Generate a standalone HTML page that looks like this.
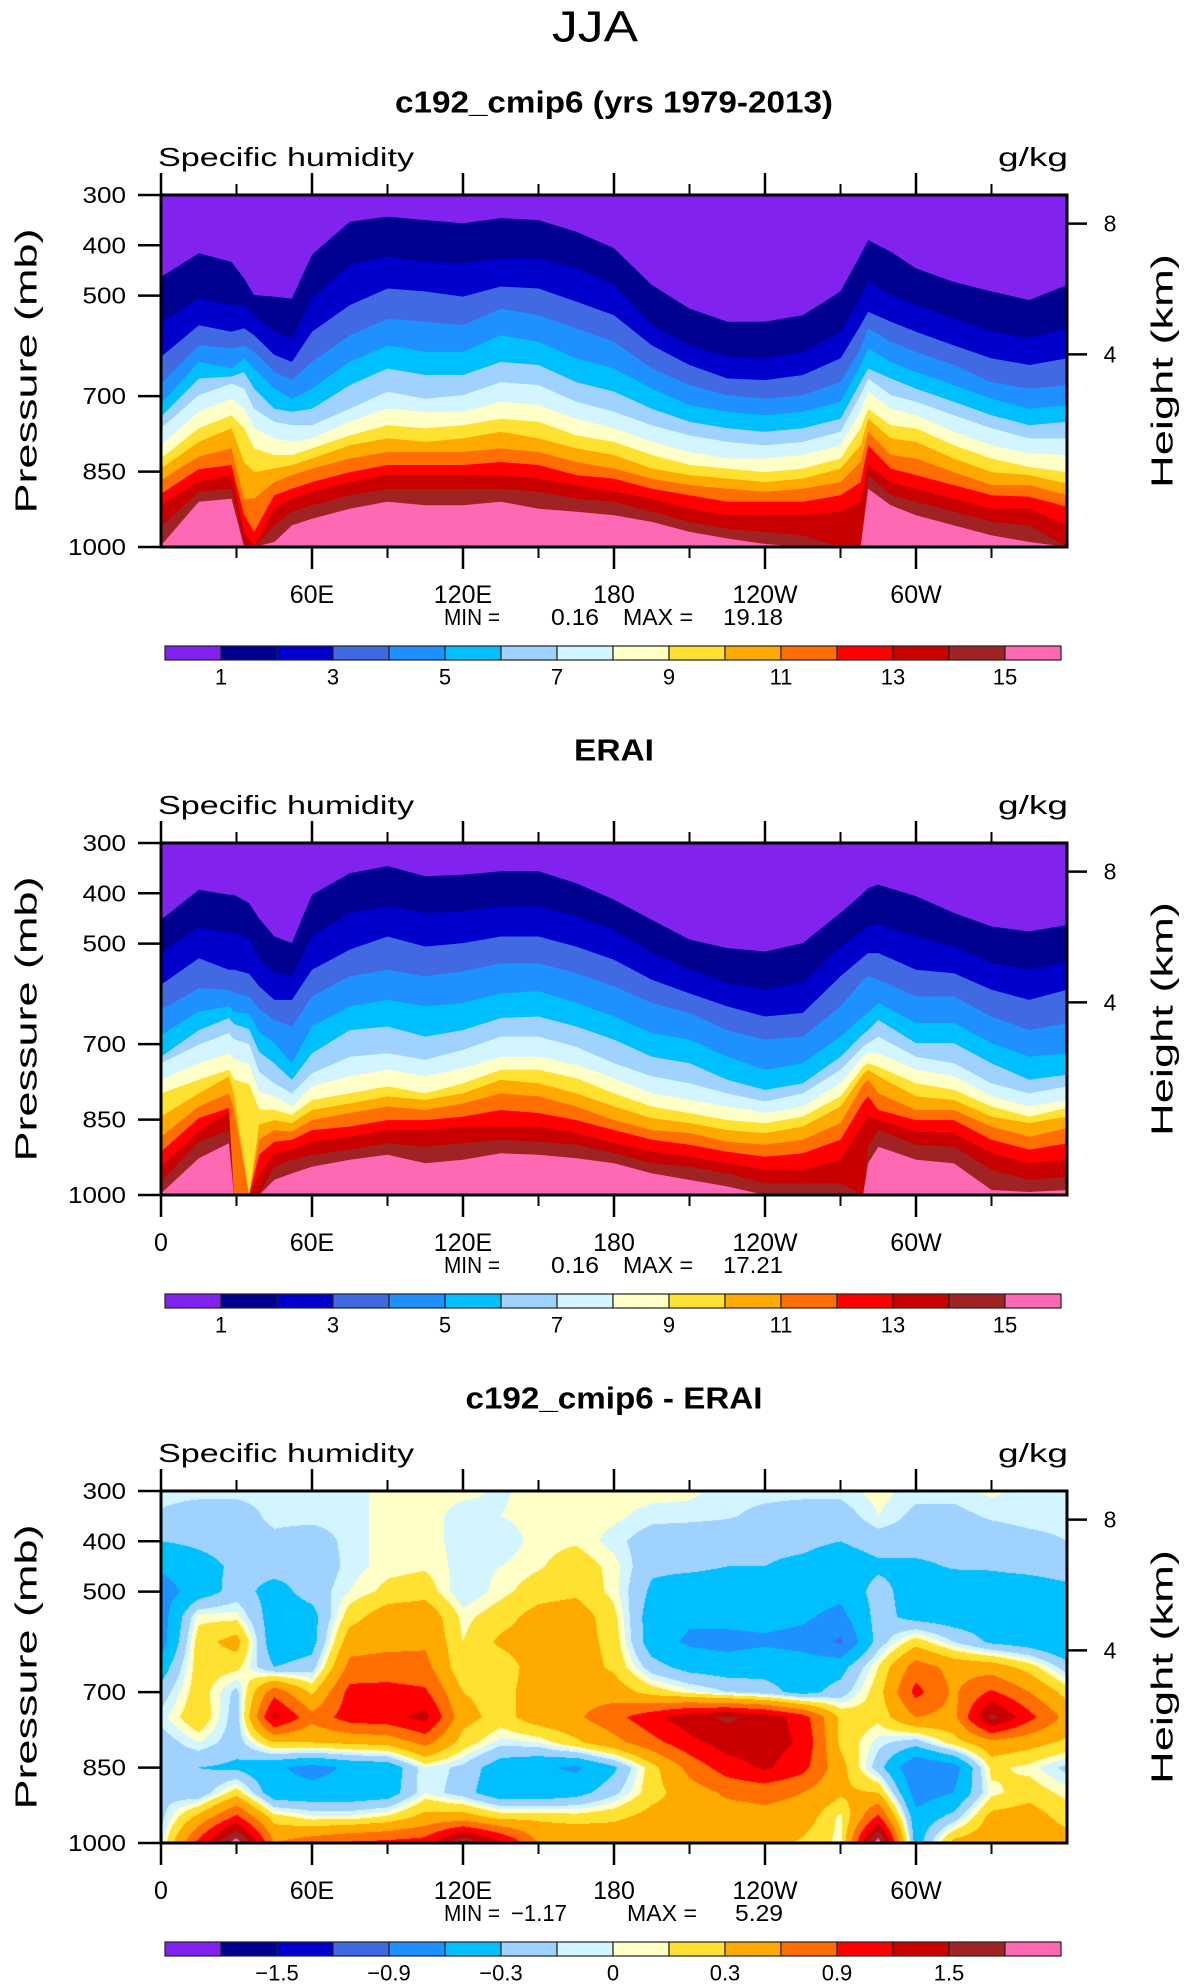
<!DOCTYPE html>
<html>
<head>
<meta charset="utf-8">
<style>
  html, body { margin: 0; padding: 0; background: #fff; }
  #root { position: relative; width: 1190px; height: 1987px; overflow: hidden; background: #fff; }
  #diffCanvas { position: absolute; left: 161px; top: 1491px; }
  #fig { position: absolute; left: 0; top: 0; }
  text { font-family: "Liberation Sans", "DejaVu Sans", sans-serif; fill: #000; }
</style>
</head>
<body>
<div id="root">
  <canvas id="diffCanvas" width="906" height="352"></canvas>
  <svg id="fig" width="1190" height="1987" xmlns="http://www.w3.org/2000/svg">
    <text x="595" y="27" text-anchor="middle" dominant-baseline="central" font-size="44" textLength="86" lengthAdjust="spacingAndGlyphs">JJA</text>
  </svg>
</div>
<script>
// ---------------- data ----------------
const palette = ['#8222EE','#000090','#0000CD','#4169E1','#1E90FF','#00BFFF','#A0D2FF','#D2F5FF','#FFFFC8','#FFE132','#FFAA00','#FF6E00','#FF0000','#C80000','#A02323','#FF69B4'];
const humidityLevels = [1,2,3,4,5,6,7,8,9,10,11,12,13,14,15];
const diffLevels = [-1.8,-1.5,-1.2,-0.9,-0.6,-0.3,-0.1,0,0.1,0.3,0.6,0.9,1.2,1.5,1.8];
const humidityBarLabels = ['1','3','5','7','9','11','13','15'];
const humidityBarLabelIdx = [1,3,5,7,9,11,13,15];
const diffBarLabels = ['\u22121.5','\u22120.9','\u22120.3','0','0.3','0.9','1.5'];
const diffBarLabelIdx = [2,4,6,8,10,12,14];
const pressureTicks = [300,400,500,700,850,1000];
const heightKm = [8,4];
const heightKmPressure = [357,617];
const lonMinorTicks = [30,90,150,210,270,330];
const lonMajorTicks = [0,60,120,180,240,300];
const lonLabelPos = [0,60,120,180,240,300];
const lonLabels = ['0','60E','120E','180','120W','60W'];

const cmipLon = [0,15,28,33,37,45,52,60,75,90,105,120,135,150,165,180,195,210,225,240,255,270,278,281,290,300,315,330,345,360];
const cmipP = [
[463,555,622,675,715,741,764,798,824,844,867,894,917,960,997],
[416,506,559,599,632,665,698,731,764,791,820,845,870,890,910],
[433,519,572,605,645,661,675,705,738,764,804,837,857,884,904],
[466,519,565,599,625,652,685,725,764,831,904,937,970,997,1000],
[499,539,579,612,645,685,725,764,804,851,904,970,1000,1000,1000],
[502,572,618,652,685,725,751,784,817,844,871,897,924,957,990],
[506,585,632,668,705,731,758,791,817,837,857,884,904,930,957],
[419,506,572,632,685,725,758,784,804,824,844,871,890,917,944],
[353,439,519,579,632,678,725,751,778,798,824,851,871,897,924],
[343,423,486,546,599,645,691,725,758,784,811,837,857,884,910],
[350,433,492,552,612,658,705,731,764,791,811,837,857,884,917],
[356,436,502,559,612,658,698,731,758,784,811,837,857,884,917],
[346,426,482,526,579,632,672,711,745,771,804,831,857,884,910],
[350,426,486,539,592,638,678,718,751,784,811,837,864,890,924],
[373,446,512,565,625,672,711,745,778,804,831,857,877,904,930],
[406,479,539,592,645,691,731,764,791,817,844,864,890,910,937],
[479,559,599,645,685,725,758,791,817,844,864,884,904,930,950],
[526,599,638,678,718,751,778,811,837,857,877,897,924,950,970],
[552,622,665,698,731,764,791,824,844,864,884,910,937,964,983],
[552,625,668,705,738,771,798,824,851,871,890,910,937,970,994],
[539,612,658,698,731,764,791,817,844,864,884,910,937,977,1000],
[492,572,625,672,711,745,771,798,824,844,871,897,930,1000,1000],
[419,506,559,605,638,672,698,731,764,798,831,871,910,997,1000],
[390,473,532,565,605,645,665,691,725,745,771,798,837,857,884],
[413,499,552,592,632,665,698,725,758,784,817,844,871,897,917],
[446,519,572,612,652,685,711,738,764,791,824,857,884,910,937],
[473,546,599,638,678,711,738,771,798,824,851,877,904,930,957],
[492,572,625,672,705,738,764,798,824,851,877,897,924,950,977],
[509,585,638,685,725,758,784,814,841,857,877,900,924,957,990],
[479,565,625,678,718,751,784,817,851,874,897,920,957,1000,1000]
];

const eraiLon = [0,15,27,29,35,39,45,52,60,75,90,105,120,135,150,165,180,195,210,225,240,255,270,279,281,285,300,315,330,345,360];
const eraiP = [
[453,519,582,632,682,725,738,771,798,844,884,914,944,973,997],
[393,469,529,589,635,672,701,738,771,798,824,847,874,894,927],
[403,479,552,592,625,648,678,718,751,764,798,827,837,871,897],
[403,479,552,598,635,660,690,730,770,800,830,1000,1000,1000,1000],
[420,490,560,605,640,670,700,740,780,1000,1000,1000,1000,1000,1000],
[450,530,585,630,675,715,755,795,830,860,890,920,960,1000,1000],
[486,559,612,652,698,738,778,804,831,851,871,894,917,944,970],
[499,565,612,665,738,771,798,824,841,857,874,890,910,930,957],
[403,486,552,605,665,718,758,784,811,831,851,871,894,920,944],
[360,439,512,565,625,672,725,764,798,818,837,864,884,910,930],
[346,426,486,552,612,665,718,751,784,804,824,851,871,897,920],
[366,439,506,565,625,685,731,764,798,811,831,851,871,904,937],
[363,436,499,555,618,672,711,748,778,798,818,844,864,897,930],
[356,426,486,539,599,648,685,725,751,771,798,831,864,890,917],
[356,426,486,539,595,645,685,725,751,778,804,837,864,894,920],
[380,446,506,559,618,665,705,741,768,798,824,851,877,900,927],
[413,473,532,585,645,691,738,768,798,824,851,871,897,917,937],
[453,519,572,618,678,725,764,798,824,847,871,890,914,937,957],
[492,552,599,638,691,738,778,811,837,857,877,900,924,944,970],
[509,579,625,672,725,771,798,824,851,871,894,914,937,957,983],
[516,592,645,691,751,791,814,837,857,877,900,924,950,977,1000],
[499,579,638,685,738,778,798,824,844,864,890,917,950,977,1000],
[439,506,565,625,685,725,751,778,804,824,857,890,930,977,1000],
[400,475,527,572,645,680,705,725,745,760,780,815,860,1000,1000],
[390,466,519,565,638,672,698,718,738,751,771,804,844,904,937],
[383,463,519,572,618,652,685,718,745,764,798,831,851,871,904],
[406,486,552,605,658,698,725,751,778,804,831,851,874,900,930],
[439,506,559,605,658,698,738,764,791,811,831,851,877,904,937],
[466,539,592,645,698,738,778,804,824,844,864,890,917,950,990],
[476,552,612,672,725,771,798,824,844,857,884,910,937,970,994],
[463,536,592,658,718,761,784,811,827,844,867,897,930,964,990]
];

const diffLon = [0,15,30,45,60,75,90,105,120,135,150,165,180,195,210,225,240,255,270,285,300,315,330,345,360];
const diffPres = [300,350,400,450,500,550,600,650,700,750,800,850,900,950,1000];
const diffQ = [
[-0.05,-0.05,-0.05,-0.05,-0.05,-0.05,0.05,0.05,0.03,-0.02,0.05,0.05,0.05,0.05,0.03,-0.05,-0.05,-0.05,-0.05,0.05,-0.05,-0.05,0.03,-0.05,-0.05],
[-0.12,-0.2,-0.2,-0.05,-0.05,-0.05,0.05,0.05,-0.05,0.0,0.05,0.05,0.03,-0.05,-0.05,-0.08,-0.15,-0.2,-0.2,0.0,-0.15,-0.15,-0.08,-0.05,-0.05],
[-0.3,-0.25,-0.2,-0.15,-0.2,-0.05,0.05,0.05,-0.05,-0.08,0.05,0.08,-0.05,-0.2,-0.25,-0.25,-0.25,-0.25,-0.3,-0.2,-0.2,-0.2,-0.2,-0.15,-0.1],
[-0.55,-0.4,-0.25,-0.2,-0.25,-0.05,0.05,0.08,-0.05,0.0,0.08,0.2,0.05,-0.25,-0.25,-0.3,-0.3,-0.35,-0.45,-0.35,-0.35,-0.28,-0.28,-0.25,-0.22],
[-0.75,-0.45,-0.2,-0.4,-0.2,0.0,0.15,0.2,-0.1,0.05,0.2,0.25,0.05,-0.35,-0.45,-0.45,-0.4,-0.45,-0.5,-0.2,-0.45,-0.45,-0.4,-0.4,-0.35],
[-0.75,0.05,0.05,-0.45,-0.4,0.2,0.45,0.5,0.05,0.2,0.4,0.45,0.15,-0.45,-0.55,-0.5,-0.5,-0.55,-0.7,-0.2,-0.4,-0.45,-0.45,-0.45,-0.45],
[-0.75,0.2,0.4,-0.5,-0.4,0.45,0.5,0.55,0.1,0.35,0.45,0.45,0.2,-0.45,-0.65,-0.7,-0.65,-0.7,-0.95,-0.2,0.2,-0.1,-0.35,-0.45,-0.6],
[-0.45,0.2,0.15,-0.3,-0.2,0.7,0.75,0.7,0.1,0.15,0.45,0.45,0.25,-0.2,-0.4,-0.45,-0.4,-0.45,-0.4,0.1,0.75,0.5,0.45,0.2,-0.2],
[-0.2,0.2,-0.15,0.8,0.25,1.0,1.0,0.95,0.3,0.2,0.45,0.5,0.45,0.2,0.05,-0.1,-0.2,-0.4,-0.2,0.2,1.0,0.55,0.95,0.6,0.2],
[-0.05,0.25,-0.2,1.3,0.7,1.05,1.1,1.3,0.4,0.2,0.45,0.55,0.8,1.1,1.4,1.55,1.4,1.05,0.25,0.15,0.6,0.5,1.6,1.0,0.5],
[-0.2,0.0,-0.2,0.3,0.3,0.35,0.4,0.7,0.2,-0.05,0.0,0.25,0.5,0.8,1.1,1.35,1.35,1.15,0.25,-0.05,-0.2,0.2,0.5,0.4,0.25],
[-0.2,-0.3,-0.35,-0.55,-0.7,-0.55,-0.5,0.0,-0.15,-0.45,-0.55,-0.65,-0.35,0.2,0.7,1.05,1.25,1.0,0.4,-0.2,-0.9,-0.75,0.15,0.05,-0.15],
[-0.15,-0.25,0.2,-0.5,-0.5,-0.5,-0.45,0.0,-0.2,-0.5,-0.5,-0.4,-0.15,0.2,0.45,0.65,0.7,0.6,0.35,0.3,-0.75,-0.6,0.05,0.2,0.05],
[-0.15,0.4,1.0,0.2,0.05,0.05,0.15,0.4,0.45,0.25,0.25,0.2,0.25,0.4,0.45,0.45,0.5,0.45,0.05,1.0,-0.5,-0.2,0.4,0.45,0.2],
[-0.05,1.0,2.0,0.6,0.8,0.95,1.0,1.05,1.8,1.3,0.6,0.6,0.55,0.55,0.55,0.5,0.45,0.25,0.05,2.0,-0.45,0.4,0.5,0.5,0.45]
];

const panelTitles = ['c192_cmip6 (yrs 1979-2013)', 'ERAI', 'c192_cmip6 - ERAI'];
const panelTitleWidths = [438, 80, 297];
const minVals = ['0.16', '0.16', '\u22121.17'];
const maxVals = ['19.18', '17.21', '5.29'];

// ---------------- layout ----------------
const NS = 'http://www.w3.org/2000/svg';
const svg = document.getElementById('fig');
const PX0 = 161, PW = 906, PH = 352;
const tops = [195, 843, 1491];
function xScale(lon) { return PX0 + lon / 360 * PW; }
function yScale(p, top) { return top + (p - 300) / 700 * PH; }
function mk(tag, attrs, parent) {
  const e = document.createElementNS(NS, tag);
  for (const k in attrs) e.setAttribute(k, attrs[k]);
  (parent || svg).appendChild(e);
  return e;
}
function txt(str, attrs, parent) {
  const t = mk('text', attrs, parent);
  t.textContent = str;
  return t;
}

function drawBands(lons, cols, top, idx) {
  const g = mk('g', {});
  
  
  const bg = mk('rect', {x: PX0, y: top, width: PW, height: PH, fill: palette[15]}, g);
  
  
  for (let k = humidityLevels.length - 1; k >= 0; k--) {
    let d = 'M' + xScale(lons[0]) + ',' + top;
    for (let i = 0; i < lons.length; i++) {
      d += ' L' + xScale(lons[i]).toFixed(1) + ',' + yScale(cols[i][k], top).toFixed(1);
    }
    d += ' L' + xScale(lons[lons.length - 1]) + ',' + top + ' Z';
    const path = mk('path', {d: d, fill: palette[k]}, g);
    
    
  }
}

function drawDiff() {
  const cv = document.getElementById('diffCanvas');
  const ctx = cv.getContext('2d');
  const img = ctx.createImageData(PW, PH);
  const rgb = palette.map(h => [parseInt(h.substr(1,2),16), parseInt(h.substr(3,2),16), parseInt(h.substr(5,2),16)]);
  const nC = diffLon.length, nR = diffPres.length;
  const dLon = diffLon[1] - diffLon[0], dP = diffPres[1] - diffPres[0];
  for (let py = 0; py < PH; py++) {
    const p = 300 + (py + 0.5) / PH * 700;
    let fr = (p - diffPres[0]) / dP; let r0 = Math.min(nR - 2, Math.floor(fr)); let tr = fr - r0;
    for (let px = 0; px < PW; px++) {
      const lon = (px + 0.5) / PW * 360;
      let fc = (lon - diffLon[0]) / dLon; let c0 = Math.min(nC - 2, Math.floor(fc)); let tc = fc - c0;
      const v = (diffQ[r0][c0] * (1 - tc) + diffQ[r0][c0 + 1] * tc) * (1 - tr) +
                (diffQ[r0 + 1][c0] * (1 - tc) + diffQ[r0 + 1][c0 + 1] * tc) * tr;
      let ci = 0;
      while (ci < diffLevels.length && v >= diffLevels[ci]) ci++;
      const o = (py * PW + px) * 4;
      img.data[o] = rgb[ci][0]; img.data[o + 1] = rgb[ci][1]; img.data[o + 2] = rgb[ci][2]; img.data[o + 3] = 255;
    }
  }
  ctx.putImageData(img, 0, 0);
}

drawBands(cmipLon, cmipP, tops[0], 0);
drawBands(eraiLon, eraiP, tops[1], 1);
drawDiff();

for (let i = 0; i < 3; i++) {
  const top = tops[i], bot = top + PH;
  const g = mk('g', {});
  
  

  const title = txt(panelTitles[i], {x: 614, y: top - 93, 'text-anchor': 'middle', 'dominant-baseline': 'central', 'font-size': 31, 'font-weight': 'bold', textLength: panelTitleWidths[i], lengthAdjust: 'spacingAndGlyphs'}, g);
  
  

  const sh = txt('Specific humidity', {x: 158, y: top - 38, 'dominant-baseline': 'central', 'font-size': 26, textLength: 256, lengthAdjust: 'spacingAndGlyphs'}, g);
  
  
  const un = txt('g/kg', {x: 1068, y: top - 38, 'text-anchor': 'end', 'dominant-baseline': 'central', 'font-size': 26, textLength: 70, lengthAdjust: 'spacingAndGlyphs'}, g);
  
  

  for (let j = 0; j < pressureTicks.length; j++) {
    const y = yScale(pressureTicks[j], top);
    const tk = mk('line', {x1: 138, x2: PX0, y1: y, y2: y, stroke: '#000', 'stroke-width': 2.5}, g);
    
    
    const lb = txt(String(pressureTicks[j]), {x: 126, y: y, 'text-anchor': 'end', 'dominant-baseline': 'central', 'font-size': 23, textLength: String(pressureTicks[j]).length * 14.5, lengthAdjust: 'spacingAndGlyphs'}, g);
    
    
  }
  const yt = txt('Pressure  (mb)', {x: 0, y: 0, transform: 'translate(26,' + (top + 176) + ') rotate(-90)', 'text-anchor': 'middle', 'dominant-baseline': 'central', 'font-size': 31, textLength: 285, lengthAdjust: 'spacingAndGlyphs'}, g);
  
  

  for (let j = 0; j < heightKm.length; j++) {
    const y = yScale(heightKmPressure[j], top);
    const tk = mk('line', {x1: PX0 + PW, x2: PX0 + PW + 20, y1: y, y2: y, stroke: '#000', 'stroke-width': 2.5}, g);
    
    
    const lb = txt(String(heightKm[j]), {x: 1110, y: y, 'text-anchor': 'middle', 'dominant-baseline': 'central', 'font-size': 23}, g);
    
    
  }
  const rt = txt('Height  (km)', {x: 0, y: 0, transform: 'translate(1162,' + (top + 176) + ') rotate(-90)', 'text-anchor': 'middle', 'dominant-baseline': 'central', 'font-size': 31, textLength: 234, lengthAdjust: 'spacingAndGlyphs'}, g);
  
  

  for (const lon of lonMajorTicks) {
    const x = xScale(lon);
    const t1 = mk('line', {x1: x, x2: x, y1: top - 22, y2: top, stroke: '#000', 'stroke-width': 2.5}, g);
    
    
    if (lon !== 0 || i > 0) {
      const t2 = mk('line', {x1: x, x2: x, y1: bot, y2: bot + 22, stroke: '#000', 'stroke-width': 2.5}, g);
      
      
    }
  }
  for (const lon of lonMinorTicks) {
    const x = xScale(lon);
    const t1 = mk('line', {x1: x, x2: x, y1: top - 11, y2: top, stroke: '#000', 'stroke-width': 2}, g);
    
    
    const t2 = mk('line', {x1: x, x2: x, y1: bot, y2: bot + 11, stroke: '#000', 'stroke-width': 2}, g);
    
    
  }
  for (let j = 0; j < lonLabelPos.length; j++) {
    if (j === 0 && i === 0) continue;
    const lb = txt(lonLabels[j], {x: xScale(lonLabelPos[j]), y: bot + 48, 'text-anchor': 'middle', 'dominant-baseline': 'central', 'font-size': 25}, g);
    
    
  }

  const fr = mk('rect', {x: PX0, y: top, width: PW, height: PH, fill: 'none', stroke: '#000', 'stroke-width': 3}, g);
  
  

  const mn = txt('MIN =', {x: 444, y: bot + 70, 'dominant-baseline': 'central', 'font-size': 23, textLength: 56, lengthAdjust: 'spacingAndGlyphs'}, g);
  
  
  const mv = txt(minVals[i], {x: i === 2 ? 567 : 599, y: bot + 70, 'text-anchor': 'end', 'dominant-baseline': 'central', 'font-size': 23, textLength: i === 2 ? 56 : 48, lengthAdjust: 'spacingAndGlyphs'}, g);
  
  
  const mx = txt('MAX =', {x: i === 2 ? 627 : 623, y: bot + 70, 'dominant-baseline': 'central', 'font-size': 23, textLength: 70, lengthAdjust: 'spacingAndGlyphs'}, g);
  
  
  const xv = txt(maxVals[i], {x: 783, y: bot + 70, 'text-anchor': 'end', 'dominant-baseline': 'central', 'font-size': 23, textLength: maxVals[i].length * 12, lengthAdjust: 'spacingAndGlyphs'}, g);
  
  

  const cb = mk('g', {}, g);
  
  
  const cbx = 165, cbw = 56, cby = bot + 99, cbh = 14;
  for (let k = 0; k < palette.length; k++) {
    const r = mk('rect', {x: cbx + k * cbw, y: cby, width: cbw, height: cbh, fill: palette[k], stroke: '#222', 'stroke-width': 1.2}, cb);
    
    
  }
  const labs = i === 2 ? diffBarLabels : humidityBarLabels;
  const idxs = i === 2 ? diffBarLabelIdx : humidityBarLabelIdx;
  for (let j = 0; j < labs.length; j++) {
    const lb = txt(labs[j], {x: cbx + idxs[j] * cbw, y: bot + 130, 'text-anchor': 'middle', 'dominant-baseline': 'central', 'font-size': 22}, cb);
    
    
  }
}
</script>
</body>
</html>
